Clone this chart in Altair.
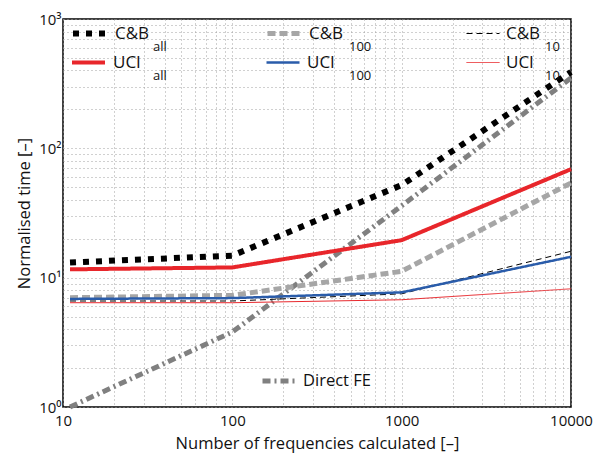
import altair as alt
import pandas as pd

# ---- data ----
N = [11, 100, 1000, 10000]
cb_all = [13.1, 14.8, 52, 390]
cb_100 = [7.0, 7.3, 11.2, 54]
cb_10 = [6.6, 6.6, 7.5, 16.0]
uci_all = [11.6, 12.0, 19.5, 69]
uci_100 = [6.85, 6.95, 7.7, 14.5]
uci_10 = [6.4, 6.4, 6.75, 8.2]
direct_fe = [1.0, 3.8, 36, 350]

series_names = ["C&B|all", "C&B|100", "C&B|10", "UCI|all", "UCI|100", "UCI|10"]
series_values = [cb_all, cb_100, cb_10, uci_all, uci_100, uci_10]

# ---- styles ----
colors = ["#000000", "#a6a6a6", "#000000", "#e8262b", "#2a5caa", "#e8262b"]
dashes = [[6, 7], [8, 4], [6, 4], [1, 0], [1, 0], [1, 0]]
widths = [6, 5, 1, 4, 2.5, 1]
fe_name = ["Direct FE"]
fe_color = "#808080"
fe_dash = [8, 4, 2, 4]
fe_width = 5

x_grid = [m * 10 ** k for k in range(1, 4) for m in range(1, 10)] + [10000]
y_grid = [m * 10 ** k for k in range(0, 3) for m in range(1, 10)] + [1000]

rows = []
for name, vals in zip(series_names, series_values):
    for n, v in zip(N, vals):
        rows.append({"N": n, "t": v, "series": name, "sub": name})
df = pd.DataFrame(rows)
df_fe = pd.DataFrame({"N": N, "t": direct_fe, "series": fe_name * len(N)})

FONT = "Open Sans"

x_enc = alt.X(
    "N:Q",
    scale=alt.Scale(type="log", domain=[10, 10000], nice=False),
    axis=alt.Axis(
        values=x_grid,
        labelExpr="abs(log(datum.value)/LN10 - round(log(datum.value)/LN10)) < 0.001 ? format(datum.value, 'd') : ''",
        title="Number of frequencies calculated [–]",
        grid=True, ticks=False, domain=False,
        labelOverlap=False, labelFlush=False,
        labelPadding=6, titlePadding=7,
    ),
)
y_enc = alt.Y(
    "t:Q",
    scale=alt.Scale(type="log", domain=[1, 1000], nice=False),
    axis=alt.Axis(
        values=y_grid,
        labelExpr="abs(log(datum.value)/LN10 - round(log(datum.value)/LN10)) < 0.001 ? '10' + ['\u2070','\u00b9','\u00b2','\u00b3'][round(log(datum.value)/LN10)] : ''",
        title="Normalised time [–]",
        grid=True, ticks=False, domain=False,
        labelOverlap=False, labelFlush=False,
        labelPadding=2, titlePadding=6,
    ),
)

# legend grid (3 columns x 2 rows) inside the plot
col_x = [7, 202, 403]
row_y = [0, 29]

layers = []
fe_legend = alt.Legend(
    title=None, orient="none", legendX=197, legendY=352,
    symbolType="stroke", symbolSize=1089, symbolStrokeWidth=fe_width, symbolDash=fe_dash,
    labelFont=FONT, labelFontSize=16.5,
    labelColor="#111", labelOffset=5, padding=0, clipHeight=20,
)
layers.append(
    alt.Chart(df_fe).mark_line(strokeCap="butt", strokeWidth=fe_width, strokeDash=fe_dash).encode(
        x=x_enc, y=y_enc,
        stroke=alt.Stroke("series:N", scale=alt.Scale(domain=fe_name, range=[fe_color]), legend=fe_legend),
    )
)

for i, (name, col, dash, w) in enumerate(zip(series_names, colors, dashes, widths)):
    leg = alt.Legend(
        title=None, orient="none", legendX=col_x[i % 3], legendY=row_y[i // 3],
        symbolType="stroke", symbolSize=1089, symbolStrokeWidth=w, symbolDash=dash,
        labelExpr="split(datum.label, '|')[0]",
        labelFont=FONT, labelFontSize=17, labelColor="#111",
        labelOffset=6, padding=0, clipHeight=29,
    )
    layers.append(
        alt.Chart(df[df["series"] == name]).mark_line(strokeCap="butt", strokeWidth=w, strokeDash=dash).encode(
            x=x_enc, y=y_enc,
            stroke=alt.Stroke("series:N", scale=alt.Scale(domain=[name], range=[col]), legend=leg),
        )
    )

sub_legend = alt.Legend(
    title=None, orient="none", legendX=77, legendY=13,
    columns=3, direction="horizontal", symbolType="stroke", symbolSize=1,
    symbolOpacity=0,
    labelExpr="split(datum.label, '|')[1]",
    labelFont=FONT, labelFontSize=13, labelColor="#111",
    labelOffset=0, columnPadding=160, rowPadding=0, padding=0,
    gridAlign="all", clipHeight=29,
)
layers.append(
    alt.Chart(df).mark_line(opacity=0).encode(
        x=x_enc, y=y_enc,
        color=alt.Color("sub:N", scale=alt.Scale(domain=series_names, range=colors), legend=sub_legend),
    )
)

chart = (
    alt.layer(*layers)
    .resolve_scale(stroke="independent")
    .resolve_legend(stroke="independent")
    .properties(
        width=508, height=388,
        autosize=alt.AutoSizeParams(type="none"),
        padding={"left": 63, "top": 19, "right": 23, "bottom": 46},
    )
    .configure_view(stroke="black", strokeWidth=1.5)
    .configure_axis(
        gridColor="#a0a0a0", gridDash=[1, 3], gridWidth=1, gridOpacity=1,
        labelFont=FONT, labelFontSize=15, labelColor="#111",
        titleFont=FONT, titleFontSize=16.5, titleFontWeight="normal", titleColor="#111",
    )
)

chart.save("out.html", embed_options={"renderer": "svg", "actions": False})
